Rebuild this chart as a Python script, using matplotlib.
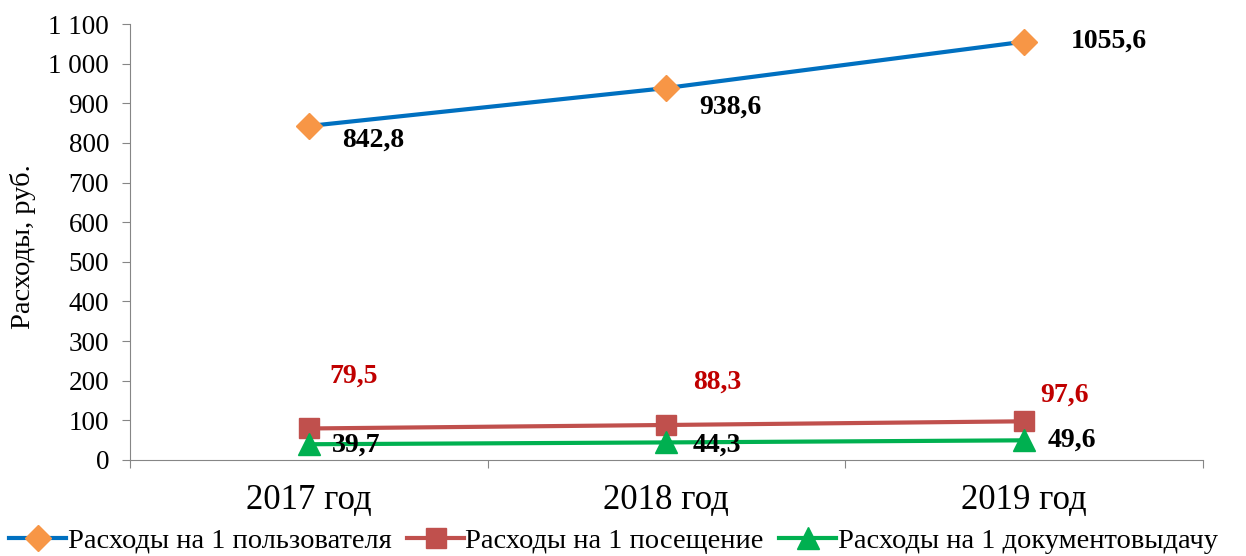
import matplotlib.pyplot as plt
from matplotlib.ticker import FuncFormatter

years = ['2017 год', '2018 год', '2019 год']
per_user = [842.8, 938.6, 1055.6]
per_visit = [79.5, 88.3, 97.6]
per_issue = [39.7, 44.3, 49.6]
names = ['Расходы на 1 пользователя', 'Расходы на 1 посещение',
         'Расходы на 1 документовыдачу']

plt.rcParams['font.family'] = ['Liberation Serif', 'DejaVu Serif']


def fmt(v, pos):
    return '{:,.0f}'.format(v).replace(',', ' ')


def lab(v):
    return '{:.1f}'.format(v).replace('.', ',')


def main():
    fig = plt.figure(figsize=(12.46, 5.56), dpi=100)
    ax = fig.add_axes([0.1043, 0.1727, 0.861, 0.784])
    x = [0.5, 1.5, 2.5]

    ax.plot(x, per_user, color='#0070C0', lw=3, marker='D', ms=13,
            mfc='#F79646', mec='#F79646', label=names[0])
    ax.plot(x, per_visit, color='#C0504D', lw=3, marker='s', ms=14,
            mfc='#C0504D', mec='#C0504D', label=names[1])
    ax.plot(x, per_issue, color='#00B050', lw=3, marker='^', ms=16,
            mfc='#00B050', mec='#00B050', label=names[2])

    # label offsets in points, picked by eye
    off_user = [(24, -10), (24, -14), (34, 0)]
    off_visit = [(15, 38), (19, 31), (12, 19)]
    off_issue = [(17, -1), (19, -2), (17, 0)]
    for xi, v, o in zip(x, per_user, off_user):
        ax.annotate(lab(v), (xi, v), xytext=o, textcoords='offset points',
                    fontsize=20, fontweight='bold', va='center', ha='left')
    for xi, v, o in zip(x, per_visit, off_visit):
        ax.annotate(lab(v), (xi, v), xytext=o, textcoords='offset points',
                    fontsize=20, fontweight='bold', color='#C00000',
                    va='center', ha='left')
    for xi, v, o in zip(x, per_issue, off_issue):
        ax.annotate(lab(v), (xi, v), xytext=o, textcoords='offset points',
                    fontsize=20, fontweight='bold', va='center', ha='left')

    ax.set_xlim(0, 3)
    ax.set_ylim(0, 1100)
    ax.set_yticks(range(0, 1101, 100))
    ax.yaxis.set_major_formatter(FuncFormatter(fmt))
    ax.set_xticks([0, 1, 2, 3])
    ax.set_xticklabels([])
    ax.set_xticks(x, minor=True)
    ax.set_xticklabels(years, minor=True, fontsize=25)
    ax.tick_params(axis='x', which='minor', length=0, pad=17)
    ax.tick_params(axis='x', which='major', length=6, color='#868686')
    ax.tick_params(axis='y', labelsize=19.5, length=6, color='#868686', pad=9)
    for s in ['top', 'right']:
        ax.spines[s].set_visible(False)
    for s in ['left', 'bottom']:
        ax.spines[s].set_color('#868686')
    ax.set_ylabel('Расходы, руб.', fontsize=20.5)
    ax.yaxis.set_label_coords(-0.088, 0.49)

    fig.legend(loc='lower left', bbox_to_anchor=(-0.004, -0.022), ncol=3,
               frameon=False, fontsize=20.5, handlelength=2.0, handletextpad=0.05,
               columnspacing=0.55, borderaxespad=0.1)
    fig.savefig('out.png')


if __name__ == '__main__':
    main()
